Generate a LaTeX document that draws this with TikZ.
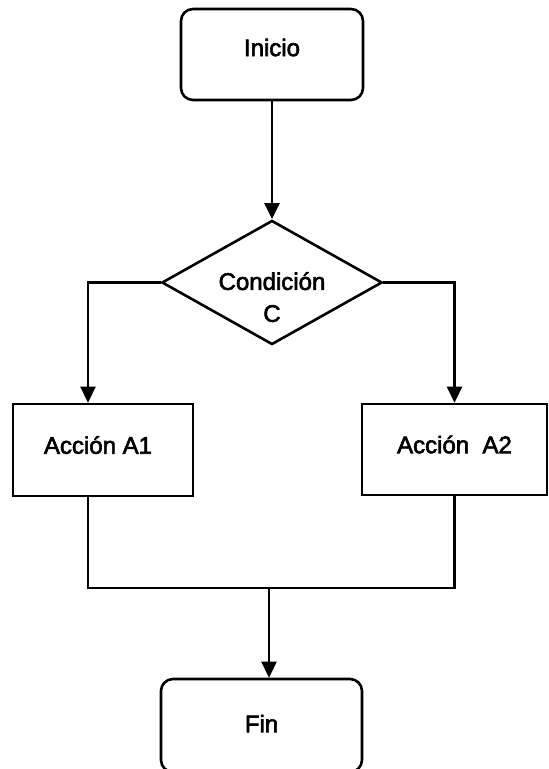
\documentclass[tikz,border=0pt]{standalone}
\usepackage{fontspec}
\setmainfont{Liberation Sans}[FakeBold=2.5]
\usetikzlibrary{arrows.meta,shapes.geometric}

\tikzset{
  base/.style={draw=black, line width=2.6pt, inner sep=0pt, font=\fontsize{24}{32}\selectfont},
  termbox/.style={base, rectangle, rounded corners=12pt},
  actbox/.style={base, rectangle},
  decbox/.style={base, diamond, aspect=1.775},
  flow/.style={line width=2.6pt, -{Triangle[length=16pt,width=15pt]}},
  wire/.style={line width=2.6pt}
}

\begin{document}
\begin{tikzpicture}[x=1pt, y=-1pt]
  \useasboundingbox (0,0) rectangle (549,769);
  \clip (0,0) rectangle (549,769);

  % start and end terminals
  \node[termbox, minimum width=182pt, minimum height=91pt] (inicio) at (272,54.5)
    {\raisebox{7pt}[\height][\depth]{Inicio}};
  \node[termbox, minimum width=201pt, minimum height=93pt] (fin) at (261.5,725.5)
    {\raisebox{2pt}[\height][\depth]{Fin}};

  % decision
  \node[decbox, minimum width=213pt, minimum height=120pt] (cond) at (272,282.5)
    {\raisebox{-17pt}[\height][\depth]{\begin{tabular}{@{}c@{}}Condición\\C\end{tabular}}};

  % actions
  \node[actbox, minimum width=180pt, minimum height=92pt] (a1) at (103,450)
    {\raisebox{5pt}[\height][\depth]{\hspace*{-10pt}Acción A1}};
  \node[actbox, minimum width=185pt, minimum height=91pt] (a2) at (454.5,449.5)
    {\raisebox{5pt}[\height][\depth]{Acción\ \ A2}};

  % merge point below the actions
  \coordinate (join) at (269,588);

  % connectors
  \draw[flow] (inicio.south) -- (cond.north);
  \draw[flow] (cond.west) -| ([xshift=-15pt]a1.north);
  \draw[flow] (cond.east) -| (a2.north);
  \draw[wire] ([xshift=-15pt]a1.south) |- (join) -| (a2.south);
  \draw[flow] (join) -- (join |- fin.north);
\end{tikzpicture}
\end{document}
